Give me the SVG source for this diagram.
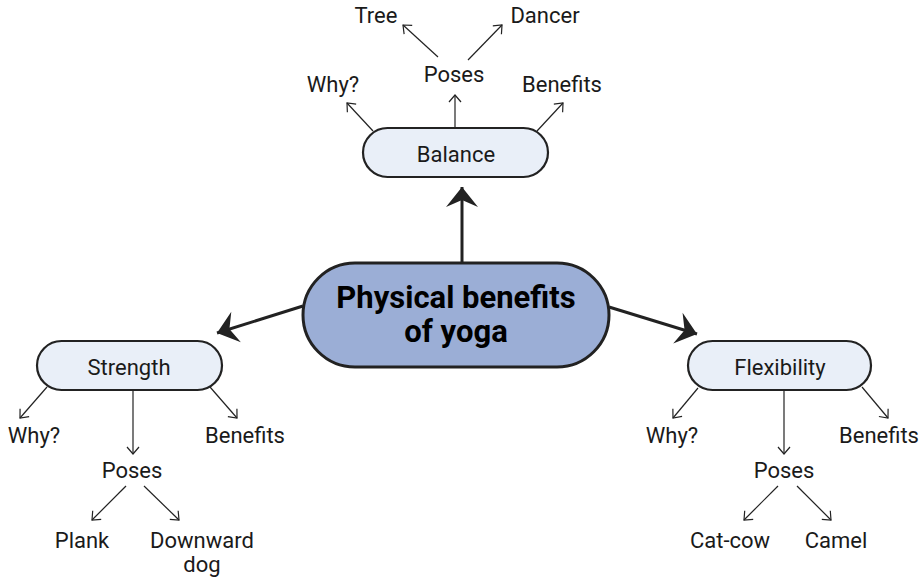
<svg xmlns="http://www.w3.org/2000/svg" width="922" height="579" viewBox="0 0 922 579">
<style>
text { font-family: Roboto, "Liberation Sans", sans-serif; fill: #1a1a1a; text-anchor: middle; }
.t { font-size: 22px; }
.title { font-size: 31px; font-weight: bold; fill: #000; }
.node { fill: #e9eff8; stroke: #222; stroke-width: 2.2; }
.main { fill: #9baed6; stroke: #222; stroke-width: 3; }
.big { stroke: #222; stroke-width: 3; fill: none; marker-end: url(#bigHead); }
.small { stroke: #222; stroke-width: 1.2; fill: none; marker-end: url(#smallHead); }
</style>
<defs>
<marker id="bigHead" markerUnits="userSpaceOnUse" markerWidth="22" markerHeight="34" viewBox="0 0 22 34" refX="20" refY="16" orient="auto" overflow="visible">
<path d="M20,16 L0,0 L7,16 L0,32 Z" fill="#222"/>
</marker>
<marker id="smallHead" markerUnits="userSpaceOnUse" markerWidth="10" markerHeight="14" viewBox="0 0 10 14" refX="8" refY="7" orient="auto" overflow="visible">
<path d="M1,1 L8,7 L1,13" fill="none" stroke="#222" stroke-width="1.2"/>
</marker>
</defs>
<g id="connectors">
<line class="big" x1="462" y1="263" x2="462" y2="187"/>
<line class="big" x1="303" y1="306" x2="217" y2="333"/>
<line class="big" x1="609" y1="307" x2="697" y2="334"/>
<line class="small" x1="373" y1="131" x2="347" y2="103"/>
<line class="small" x1="455" y1="128" x2="455" y2="95"/>
<line class="small" x1="537" y1="131" x2="563" y2="103"/>
<line class="small" x1="438" y1="57" x2="403" y2="25"/>
<line class="small" x1="468" y1="60" x2="502" y2="25"/>
<line class="small" x1="47" y1="387" x2="20" y2="418"/>
<line class="small" x1="133" y1="390" x2="133" y2="454"/>
<line class="small" x1="210" y1="387" x2="237" y2="418"/>
<line class="small" x1="126" y1="486" x2="92" y2="520"/>
<line class="small" x1="144" y1="486" x2="179" y2="520"/>
<line class="small" x1="698" y1="388" x2="673" y2="418"/>
<line class="small" x1="784" y1="390" x2="784" y2="454"/>
<line class="small" x1="862" y1="387" x2="888" y2="418"/>
<line class="small" x1="778" y1="486" x2="744" y2="520"/>
<line class="small" x1="797" y1="486" x2="831" y2="520"/>
</g>
<g id="main">
<rect class="main" x="303" y="263" width="306" height="104" rx="52"/>
<text class="title" x="456" y="308">Physical benefits</text>
<text class="title" x="456" y="342">of yoga</text>
</g>
<g id="balance">
<rect class="node" x="363" y="128" width="185" height="49" rx="24.5"/>
<text class="t" x="456" y="162">Balance</text>
</g>
<g id="strength">
<rect class="node" x="37" y="341" width="185" height="49" rx="24.5"/>
<text class="t" x="129" y="375">Strength</text>
</g>
<g id="flexibility">
<rect class="node" x="688" y="341" width="183" height="49" rx="24.5"/>
<text class="t" x="780" y="375">Flexibility</text>
</g>
<g id="balance-why"><text class="t" x="333" y="92">Why?</text></g>
<g id="balance-poses"><text class="t" x="454" y="82">Poses</text></g>
<g id="balance-benefits"><text class="t" x="562" y="92">Benefits</text></g>
<g id="tree"><text class="t" x="376" y="23">Tree</text></g>
<g id="dancer"><text class="t" x="545" y="23">Dancer</text></g>
<g id="strength-why"><text class="t" x="34" y="443">Why?</text></g>
<g id="strength-poses"><text class="t" x="132" y="478">Poses</text></g>
<g id="strength-benefits"><text class="t" x="245" y="443">Benefits</text></g>
<g id="plank"><text class="t" x="82" y="548">Plank</text></g>
<g id="downward-dog"><text class="t" x="202" y="548">Downward</text><text class="t" x="202" y="572">dog</text></g>
<g id="flexibility-why"><text class="t" x="672" y="443">Why?</text></g>
<g id="flexibility-poses"><text class="t" x="784" y="478">Poses</text></g>
<g id="flexibility-benefits"><text class="t" x="879" y="443">Benefits</text></g>
<g id="cat-cow"><text class="t" x="730" y="548">Cat-cow</text></g>
<g id="camel"><text class="t" x="836" y="548">Camel</text></g>
</svg>
